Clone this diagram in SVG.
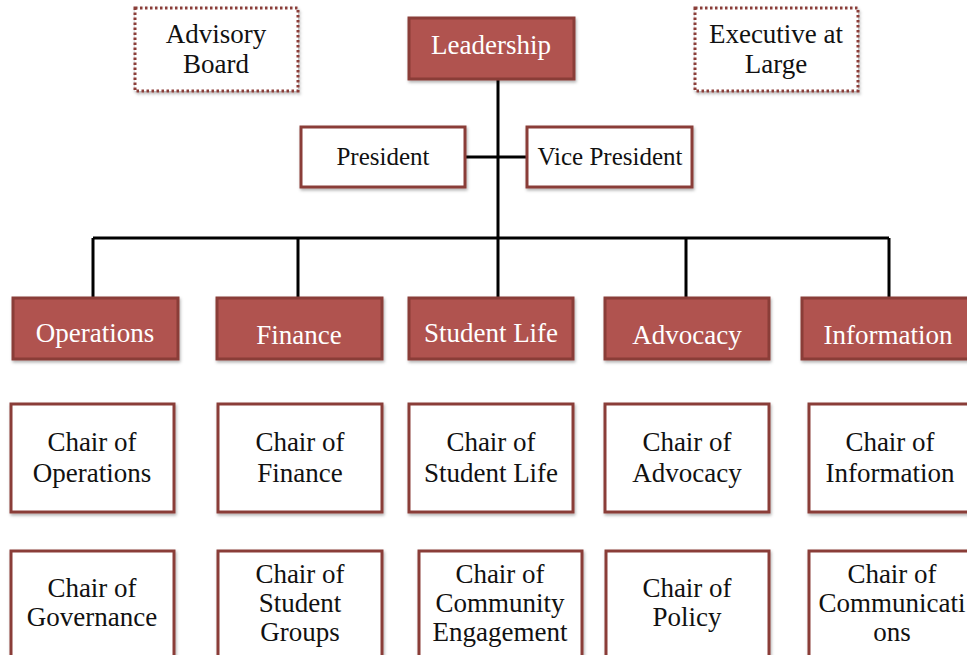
<svg xmlns="http://www.w3.org/2000/svg" width="967" height="655" viewBox="0 0 967 655">
<defs>
<filter id="sh" x="-10%" y="-10%" width="125%" height="130%">
<feDropShadow dx="1" dy="2" stdDeviation="1.5" flood-color="#000" flood-opacity="0.3"/>
</filter>
</defs>
<style>
.red{fill:#b0524f;stroke:#8a3c39;stroke-width:3;filter:url(#sh)}
.wht{fill:#fff;stroke:#8a3c39;stroke-width:3;filter:url(#sh)}
.dot{fill:#fff;stroke:#8a3c39;stroke-width:3;stroke-dasharray:2.5 2.5;filter:url(#sh)}
svg text{text-anchor:middle;fill:#111;font-family:"Liberation Serif","Times New Roman",serif;font-size:27px}
svg text.wt{fill:#fff}
svg text.s25{font-size:25px}
.ln{stroke:#000;stroke-width:3;fill:none}
</style>
<rect width="967" height="655" fill="#fff"/>
<g id="connectors">
<path class="ln" d="M498 79V238M465 157H527M93 238H889M93 238V298M298 238V298M498 238V298M686 238V298M889 238V298"/>
</g>
<g id="advisory"><rect class="dot" x="135" y="8" width="163" height="83"/><text x="216" y="43">Advisory</text><text x="216" y="73">Board</text></g>
<g id="leadership"><rect class="red" x="409" y="18" width="165" height="61"/><text class="wt" x="491" y="54">Leadership</text></g>
<g id="executive"><rect class="dot" x="695" y="8" width="163" height="83"/><text x="776" y="43">Executive at</text><text x="776" y="73">Large</text></g>
<g id="president"><rect class="wht" x="301" y="127" width="164" height="60"/><text class="s25" x="383" y="165">President</text></g>
<g id="vicepresident"><rect class="wht" x="527" y="127" width="165" height="60"/><text class="s25" x="610" y="165">Vice President</text></g>
<g id="operations"><rect class="red" x="13" y="298" width="165" height="61"/><text class="wt" x="95" y="342">Operations</text></g>
<g id="finance"><rect class="red" x="217" y="298" width="165" height="61"/><text class="wt" x="299" y="344">Finance</text></g>
<g id="studentlife"><rect class="red" x="409" y="298" width="164" height="61"/><text class="wt" x="491" y="342">Student Life</text></g>
<g id="advocacy"><rect class="red" x="605" y="298" width="164" height="61"/><text class="wt" x="687" y="344">Advocacy</text></g>
<g id="information"><rect class="red" x="802" y="298" width="170" height="61"/><text class="wt" x="888" y="344">Information</text></g>
<g id="chairoperations"><rect class="wht" x="11" y="404" width="163" height="108"/><text x="92" y="451">Chair of</text><text x="92" y="482">Operations</text></g>
<g id="chairfinance"><rect class="wht" x="218" y="404" width="164" height="108"/><text x="300" y="451">Chair of</text><text x="300" y="482">Finance</text></g>
<g id="chairstudentlife"><rect class="wht" x="409" y="404" width="164" height="108"/><text x="491" y="451">Chair of</text><text x="491" y="482">Student Life</text></g>
<g id="chairadvocacy"><rect class="wht" x="605" y="404" width="164" height="108"/><text x="687" y="451">Chair of</text><text x="687" y="482">Advocacy</text></g>
<g id="chairinformation"><rect class="wht" x="809" y="404" width="164" height="108"/><text x="890" y="451">Chair of</text><text x="890" y="482">Information</text></g>
<g id="chairgovernance"><rect class="wht" x="11" y="551" width="163" height="110"/><text x="92" y="597">Chair of</text><text x="92" y="626">Governance</text></g>
<g id="chairstudentgroups"><rect class="wht" x="218" y="551" width="164" height="110"/><text x="300" y="583">Chair of</text><text x="300" y="612">Student</text><text x="300" y="641">Groups</text></g>
<g id="chaircommunity"><rect class="wht" x="419" y="551" width="163" height="110"/><text x="500" y="583">Chair of</text><text x="500" y="612">Community</text><text x="500" y="641">Engagement</text></g>
<g id="chairpolicy"><rect class="wht" x="606" y="551" width="163" height="110"/><text x="687" y="597">Chair of</text><text x="687" y="626">Policy</text></g>
<g id="chaircommunications"><rect class="wht" x="809" y="551" width="164" height="110"/><text x="892" y="583">Chair of</text><text x="892" y="612">Communicati</text><text x="892" y="641">ons</text></g>
</svg>
